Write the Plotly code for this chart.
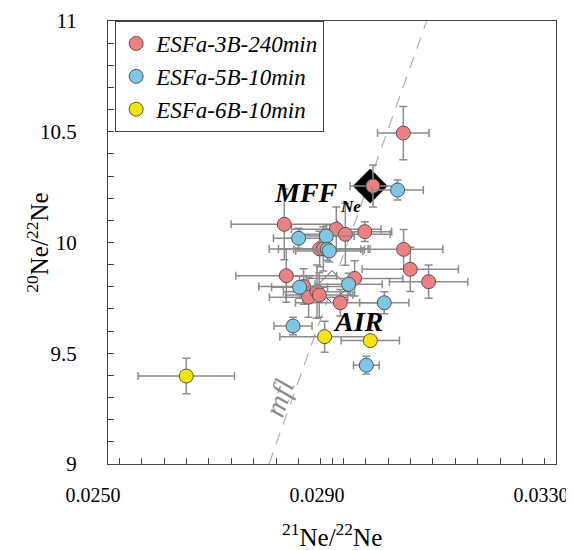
import plotly.graph_objects as go

# ---------------- data ----------------
red_x = [0.030273, 0.029732, 0.028148, 0.029077, 0.029238, 0.029586, 0.028779, 0.028845,
         0.030279, 0.030398, 0.030725, 0.028184, 0.028493, 0.028582, 0.028732, 0.028773,
         0.029148, 0.029404]
red_y = [10.494, 10.255, 10.082, 10.060, 10.037, 10.049, 9.971, 9.971,
         9.969, 9.879, 9.823, 9.850, 9.801, 9.753, 9.778, 9.763,
         9.728, 9.838]
red_ex = [0.00046, 0.00041, 0.00095, 0.0008, 0.0008, 0.00048, 0.0009, 0.0008,
          0.0007, 0.00086, 0.0007, 0.0009, 0.0008, 0.0007, 0.0006, 0.0006,
          0.0008, 0.00086]
red_ey = [0.12, 0.095, 0.16, 0.10, 0.14, 0.045, 0.08, 0.10,
          0.09, 0.10, 0.075, 0.12, 0.08, 0.09, 0.12, 0.10,
          0.06, 0.08]

blue_x = [0.030171, 0.028404, 0.028898, 0.028916, 0.028952, 0.028421, 0.029296,
          0.029934, 0.028304, 0.029613]
blue_y = [10.237, 10.019, 10.029, 9.969, 9.962, 9.798, 9.811, 9.728, 9.623, 9.446]
blue_ex = [0.00046, 0.00045, 0.0005, 0.0006, 0.0006, 0.0005, 0.0006, 0.00044, 0.00034, 0.00023]
blue_ey = [0.045, 0.045, 0.05, 0.05, 0.05, 0.05, 0.05, 0.05, 0.04, 0.04]

yellow_x = [0.028868, 0.029684, 0.026398]
yellow_y = [9.575, 9.557, 9.397]
yellow_ex = [0.0008, 0.00052, 0.00086]
yellow_ey = [0.07, 0.015, 0.08]

mff_x, mff_y = [0.029684], [10.255]
air_x, air_y = [0.0290], [9.80]

mfl_x = [0.027875, 0.030690]
mfl_y = [9.0, 11.0]

series_names = ["ESFa-3B-240min", "ESFa-5B-10min", "ESFa-6B-10min"]
x_ticks = [0.0250, 0.0290, 0.0330]
x_ticktext = ["0.0250", "0.0290", "0.0330"]
y_ticks = [9, 9.5, 10, 10.5, 11]

# ---------------- figure ----------------
SERIF = "Liberation Serif, Times New Roman, serif"
fig = go.Figure()

# mass fractionation line
fig.add_trace(go.Scatter(x=mfl_x, y=mfl_y, mode="lines",
                         line=dict(color="#b0b0b0", width=1.2, dash="12px,9px"),
                         showlegend=False, hoverinfo="skip"))

# reference diamonds
fig.add_trace(go.Scatter(x=air_x, y=air_y, mode="markers",
                         marker=dict(symbol="diamond", size=25, color="white",
                                     line=dict(color="#444444", width=1)),
                         showlegend=False))
fig.add_trace(go.Scatter(x=mff_x, y=mff_y, mode="markers",
                         marker=dict(symbol="diamond", size=26, color="black",
                                     line=dict(color="black", width=1)),
                         showlegend=False))

err_style = dict(color="#8c8c8c", thickness=1.5, width=4)

def add_series(xs, ys, exs, eys, color, name):
    fig.add_trace(go.Scatter(
        x=xs, y=ys, mode="markers", name="<i>" + name + "</i>",
        marker=dict(size=14, color=color, line=dict(color="#555555", width=1)),
        error_x=dict(type="data", array=exs, visible=True, **err_style),
        error_y=dict(type="data", array=eys, visible=True, **err_style),
    ))

add_series(red_x, red_y, red_ex, red_ey, "#F08080", series_names[0])
add_series(blue_x, blue_y, blue_ex, blue_ey, "#7CC8E4", series_names[1])
add_series(yellow_x, yellow_y, yellow_ex, yellow_ey, "#F7E400", series_names[2])

# text labels
fig.add_annotation(x=0.0290, y=10.228, xref="x", yref="y", text="<b><i>MFF</i></b>",
                   showarrow=False, xanchor="right", yanchor="middle", xshift=8,
                   font=dict(family=SERIF, size=28, color="black"))
fig.add_annotation(x=0.0290, y=10.162, xref="x", yref="y", text="<b><i>Ne</i></b>",
                   showarrow=False, xanchor="left", yanchor="middle", xshift=6,
                   font=dict(family=SERIF, size=17, color="black"))
fig.add_annotation(x=0.028988, y=9.645, xref="x", yref="y", text="<b><i>AIR</i></b>",
                   showarrow=False, xanchor="left", yanchor="middle",
                   font=dict(family=SERIF, size=28, color="black"))
fig.add_annotation(x=0.02805, y=9.30, xref="x", yref="y", text="<i>mfl</i>",
                   showarrow=False, textangle=-70,
                   font=dict(family=SERIF, size=29, color="#8c8c8c"))

# axis titles
fig.add_annotation(x=0.5, y=-0.16, xref="paper", yref="paper",
                   text="<sup>21</sup>Ne/<sup>22</sup>Ne", showarrow=False,
                   xanchor="center", yanchor="middle",
                   font=dict(family=SERIF, size=25, color="black"))
fig.add_annotation(x=-0.158, y=0.5, xref="paper", yref="paper",
                   text="<sup>20</sup>Ne/<sup>22</sup>Ne", showarrow=False, textangle=-90,
                   xanchor="center", yanchor="middle",
                   font=dict(family=SERIF, size=25, color="black"))

# page body keeps an 8px margin, so the figure is sized to fit inside the window
fig.update_layout(
    width=566, height=542,
    margin=dict(l=100, r=18, t=13, b=86),
    paper_bgcolor="white", plot_bgcolor="white",
    font=dict(family=SERIF, color="black"),
    legend=dict(x=0.016, y=1.0, xanchor="left", yanchor="top",
                bordercolor="#444444", borderwidth=1, bgcolor="white",
                font=dict(family=SERIF, size=23, color="black"),
                itemwidth=30, tracegroupgap=0),
    xaxis=dict(range=[0.0250, 0.03300001], tickvals=x_ticks, ticktext=x_ticktext,
               automargin=False, ticklabeloverflow="allow", ticklabelshift=-15,
               ticks="inside", ticklen=6, tickcolor="#444444",
               showline=True, linecolor="#444444", linewidth=1.2, mirror=True,
               showgrid=False, zeroline=False,
               minor=dict(dtick=0.0004, ticks="inside", ticklen=6, tickcolor="#444444", showgrid=False),
               tickfont=dict(family=SERIF, size=20, color="black"), ticklabelstandoff=13),
    yaxis=dict(range=[9, 11], tickvals=y_ticks, automargin=False,
               ticks="inside", ticklen=6, tickcolor="#444444",
               showline=True, linecolor="#444444", linewidth=1.2, mirror=True,
               showgrid=False, zeroline=False,
               minor=dict(dtick=0.1, ticks="inside", ticklen=6, tickcolor="#444444", showgrid=False),
               tickfont=dict(family=SERIF, size=21, color="black"), ticklabelstandoff=26),
)

fig.write_html("out.html")
